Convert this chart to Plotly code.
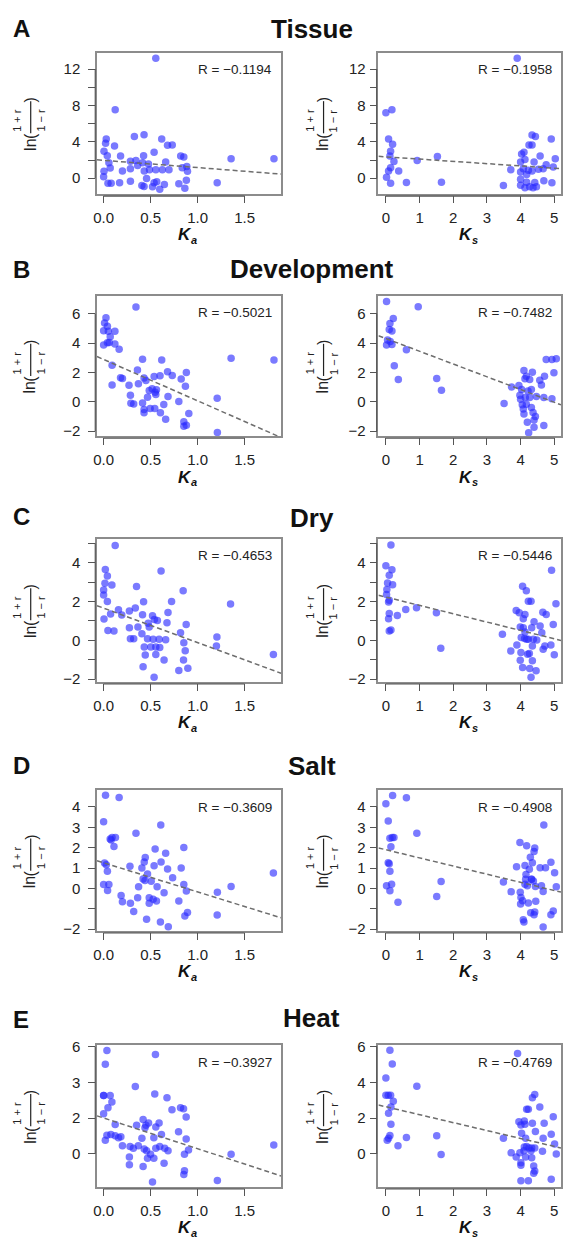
import plotly.graph_objects as go

W, H = 563, 1247

# ---------------- data ----------------
titles = ["Tissue", "Development", "Dry", "Salt", "Heat"]
panel_letters = ["A", "B", "C", "D", "E"]
x_subscripts = ["a", "s"]

r_labels_ka = ["R = −0.1194", "R = −0.5021", "R = −0.4653", "R = −0.3609", "R = −0.3927"]
r_labels_ks = ["R = −0.1958", "R = −0.7482", "R = −0.5446", "R = −0.4908", "R = −0.4769"]

fit_ka_intercept = [1.97, 2.89, 1.66, 1.26, 2.01]
fit_ka_slope = [-0.80, -2.82, -1.78, -1.43, -1.72]
fit_ks_intercept = [2.35, 4.32, 2.23, 1.90, 2.64]
fit_ks_slope = [-0.249, -0.87, -0.43, -0.40, -0.444]

ka_tickvals = [0, 0.5, 1.0, 1.5]
ka_ticktext = ["0.0", "0.5", "1.0", "1.5"]
ks_tickvals = [0, 1, 2, 3, 4, 5]
ks_ticktext = ["0", "1", "2", "3", "4", "5"]

# labelled y ticks
y_tickvals = [
    [0, 4, 8, 12],
    [-2, 0, 2, 4, 6],
    [-2, 0, 2, 4],
    [-2, 0, 1, 2, 3, 4],
    [0, 2, 4, 6],
]
y_ticktext_ka = [
    ["0", "4", "8", "12"],
    ["−2", "0", "2", "4", "6"],
    ["−2", "0", "2", "4"],
    ["−2", "0", "1", "2", "3", "4"],
    ["0", "2", "3", "6"],
]
y_ticktext_ks = [
    ["0", "4", "8", "12"],
    ["−2", "0", "2", "4", "6"],
    ["−2", "0", "2", "4"],
    ["−2", "0", "1", "2", "3", "4"],
    ["0", "2", "4", "6"],
]
# unlabelled y ticks
y_minor_tickvals = [
    [2, 6, 10],
    [],
    [-1, 1, 3, 5],
    [-1],
    [],
]

# Tissue
tissue_ka = [0.555, 0.123, 0.028, 0.021, 0.116, 0.004, 0.039, 0.056, 0.07, 0.004,
             0.0, 0.046, 0.08, 0.17, 0.18, 0.2, 0.285, 0.285, 0.285, 0.327,
             0.344, 0.362, 0.43, 0.425, 0.414, 0.432, 0.407, 0.43, 0.457, 0.477,
             0.488, 0.52, 0.537, 0.537, 0.555, 0.565, 0.597, 0.618, 0.625, 0.646,
             0.66, 0.68, 0.695, 0.73, 0.8, 0.82, 0.853, 0.836, 0.864, 0.88,
             0.885, 0.892, 1.208, 1.356, 1.812]
tissue_ka_y = [13.2, 7.54, 4.31, 3.84, 3.55, 2.97, 2.47, 1.7, 1.12, 0.76,
               0.15, -0.54, -0.54, -0.5, 2.43, 0.8, -0.33, 1.88, 1.05, 4.6,
               1.96, 1.41, 4.79, 2.47, 1.7, 0.8, -0.8, -0.9, -0.04, 1.56,
               0.94, -0.94, 2.86, -0.5, 0.94, -0.4, -1.2, 4.31, 0.94, -0.69,
               1.78, 3.63, 0.94, 3.66, -0.62, 2.43, 2.32, 1.16, -1.09, -0.22,
               1.3, 0.76, -0.5, 2.14, 2.14]
tissue_ks = [3.9, 0.0, 0.18, 0.08, 0.2, 0.14, 0.12, 0.24, 0.14, 0.08,
             0.02, 0.14, 0.38, 0.61, 0.93, 1.53, 1.65, 3.49, 3.71, 4.0,
             4.03, 4.1, 4.13, 4.08, 4.0, 4.0, 4.0, 4.13, 4.18, 4.23,
             4.25, 4.34, 4.44, 4.34, 4.4, 4.34, 4.42, 4.37, 4.47, 4.58,
             4.67, 4.69, 4.76, 4.91, 4.93, 4.97, 5.03, 4.27, 4.18, 4.53]
tissue_ks_y = [13.2, 7.2, 7.54, 4.31, 3.73, 2.97, 2.43, 1.85, 1.16, 0.8,
               0.11, -0.54, 0.8, -0.47, 1.96, 2.39, -0.43, -0.8, 0.94, 1.78,
               2.65, 2.86, 2.07, 1.05, 0.69, -0.1, -0.76, -1.05, -0.43, 0.87,
               3.66, 4.75, 4.6, 3.66, 1.78, 0.8, -0.47, -1.05, -0.94, 2.43,
               1.05, -0.29, 1.49, 4.31, -0.5, 1.23, 2.14, -0.94, 0.4, 0.98]

# Development
dev_ka = [0.0, 0.0, 0.01, 0.025, 0.04, 0.05, 0.04, 0.06, 0.07, 0.12,
          0.12, 0.165, 0.09, 0.09, 0.18, 0.2, 0.27, 0.285, 0.29, 0.32,
          0.344, 0.36, 0.414, 0.37, 0.43, 0.45, 0.414, 0.43, 0.43, 0.467,
          0.485, 0.495, 0.516, 0.537, 0.544, 0.548, 0.555, 0.562, 0.6, 0.604,
          0.618, 0.64, 0.66, 0.685, 0.68, 0.73, 0.8, 0.825, 0.87, 0.88,
          0.853, 0.853, 0.88, 0.906, 1.208, 1.21, 1.356, 1.812]
dev_ka_y = [3.87, 4.84, 5.38, 5.74, 5.16, 4.82, 4.03, 4.05, 4.44, 4.82,
            3.94, 3.58, 2.5, 1.15, 1.64, 1.6, 1.13, 0.45, -0.09, -0.14,
            6.46, 2.18, 2.9, 1.24, 1.62, 1.46, -0.07, -0.52, -0.74, 0.32,
            0.77, -0.45, 0.9, 1.73, -0.45, 0.65, 0.5, 0.83, 1.78, -0.74,
            2.86, -0.18, -1.19, 0.36, 2.05, 1.8, 0.02, 1.55, 1.06, 2.0,
            -1.35, -1.67, -1.6, -0.79, 0.25, -2.09, 2.97, 2.86]
dev_ks = [0.02, 0.96, 0.22, 0.12, 0.1, 0.18, 0.05, 0.13, 0.02, 0.18,
          0.61, 0.25, 0.37, 1.51, 1.65, 3.51, 3.73, 3.95, 4.1, 4.17,
          4.13, 4.27, 4.35, 3.98, 4.03, 4.0, 4.05, 4.08, 4.1, 4.14,
          4.22, 4.27, 4.2, 4.24, 4.32, 4.37, 4.4, 4.44, 4.4, 4.47,
          4.57, 4.62, 4.71, 4.69, 4.69, 4.76, 4.93, 5.06, 4.93, 4.99,
          4.32, 4.17]
dev_ks_y = [6.85, 6.49, 5.69, 5.35, 4.94, 4.83, 4.22, 4.11, 3.87, 3.91,
            3.55, 2.47, 1.53, 1.6, 0.79, -0.11, 1.01, 1.12, 2.13, 1.75,
            1.57, 1.53, 2.02, 0.45, 0.85, 0.18, -0.2, -0.49, -0.83, 0.29,
            0.74, 0.29, -1.39, -2.11, -0.38, -0.72, -1.24, -0.99, -1.73, 0.36,
            1.48, 1.15, 1.75, 0.29, -1.62, 2.88, 2.88, 2.94, 0.22, 1.98,
            0.85, -0.16]

# Dry
dry_ka = [0.123, 0.018, 0.04, 0.014, 0.0, 0.0, 0.088, 0.04, 0.004, 0.046,
          0.11, 0.074, 0.158, 0.193, 0.274, 0.274, 0.285, 0.32, 0.337, 0.35,
          0.365, 0.407, 0.414, 0.425, 0.432, 0.443, 0.42, 0.467, 0.474, 0.485,
          0.502, 0.52, 0.527, 0.54, 0.555, 0.555, 0.537, 0.572, 0.59, 0.611,
          0.597, 0.643, 0.66, 0.674, 0.685, 0.723, 0.8, 0.818, 0.846, 0.853,
          0.85, 0.868, 0.878, 0.896, 1.205, 1.2, 1.35, 1.806]
dry_ka_y = [4.89, 3.65, 3.31, 2.94, 2.6, 2.34, 2.85, 2.0, 1.1, 0.51,
            0.48, 1.36, 1.58, 1.31, 1.51, 0.65, 0.08, 0.08, 1.66, 2.77,
            0.68, 0.34, 1.32, 1.99, -0.34, -0.76, -1.36, 0.08, 0.88, 0.68,
            -0.34, 1.27, 0.05, 1.07, -0.34, -0.73, -1.9, 1.02, 0.05, 3.57,
            -0.37, -1.02, 0.03, 0.9, 1.43, 2.0, -1.56, 0.39, 2.55, -0.12,
            -1.02, -0.54, 0.81, -1.44, 0.17, -0.29, 1.87, -0.73]
dry_ks = [0.15, 0.0, 0.18, 0.1, 0.05, 0.2, 0.03, 0.02, 0.1, 0.08,
          0.1, 0.08, 0.15, 0.1, 0.34, 0.59, 0.91, 1.5, 1.63, 3.46,
          3.71, 3.87, 3.96, 3.89, 3.99, 4.02, 4.01, 3.99, 4.06, 4.06,
          4.17, 4.23, 4.31, 4.08, 4.13, 4.08, 4.13, 4.12, 4.18, 4.21,
          4.26, 4.27, 4.31, 4.33, 4.35, 4.38, 4.4, 4.35, 4.46, 4.58,
          4.63, 4.66, 4.76, 4.67, 4.72, 4.9, 4.92, 4.97, 5.0, 5.05,
          4.48, 4.23]
dry_ks_y = [4.92, 3.85, 3.64, 3.35, 2.96, 2.87, 2.62, 2.36, 2.07, 1.98,
            1.38, 1.11, 0.53, 0.48, 1.28, 1.59, 1.68, 1.42, -0.41, 0.31,
            -0.55, 1.54, 1.42, -0.24, 0.68, 0.14, -0.63, -1.03, -1.4, 2.79,
            2.56, 2.02, 2.02, 1.11, 1.33, 0.65, 0.43, 0.09, 0.05, -0.72,
            -0.68, -1.45, -1.91, 0.65, -0.29, 0.05, 0.96, -1.06, -1.57, 0.74,
            0.39, 1.45, 1.33, -0.46, -0.29, -0.24, 3.61, 0.82, -0.75, 1.88,
            0.02, 0.05]

# Salt
salt_ka = [0.02, 0.165, 0.0, 0.344, 0.608, 0.07, 0.09, 0.126, 0.08, 0.11,
           0.01, 0.028, 0.04, 0.0, 0.056, 0.042, 0.186, 0.2, 0.28, 0.285,
           0.32, 0.362, 0.372, 0.407, 0.432, 0.443, 0.42, 0.44, 0.457, 0.467,
           0.485, 0.485, 0.506, 0.527, 0.537, 0.548, 0.562, 0.569, 0.611, 0.604,
           0.643, 0.66, 0.68, 0.688, 0.734, 0.8, 0.825, 0.853, 0.853, 0.864,
           0.88, 0.892, 1.21, 1.208, 1.356, 1.806]
salt_ka_y = [4.57, 4.46, 3.27, 2.71, 3.11, 2.43, 2.5, 2.5, 2.38, 2.06,
             1.25, 1.17, 0.84, 0.19, 0.19, -0.1, -0.34, -0.65, 1.09, -0.73,
             -1.13, -0.45, 0.08, 1.0, 1.3, 1.52, 0.47, 0.39, -1.51, 0.71,
             -0.45, -0.73, 0.36, -0.53, 1.12, 1.94, -0.62, 0.08, 1.3, -1.64,
             -0.21, 1.73, 0.96, -1.88, 0.52, -0.62, 1.0, 2.01, 0.19, -1.35,
             -0.13, -1.18, -0.18, -1.3, 0.1, 0.76]
salt_ks = [0.0, 0.2, 0.61, 0.07, 0.12, 0.19, 0.24, 0.15, 0.07, 0.1,
           0.12, 0.02, 0.17, 0.12, 0.36, 0.92, 1.51, 1.64, 3.49, 3.72,
           3.88, 3.98, 3.99, 4.01, 4.0, 4.06, 4.08, 4.1, 4.13, 4.18,
           4.16, 4.15, 4.2, 4.23, 4.26, 4.29, 4.32, 4.35, 4.33, 4.38,
           4.4, 4.42, 4.3, 4.42, 4.4, 4.45, 4.44, 4.58, 4.62, 4.69,
           4.67, 4.67, 4.74, 4.9, 4.9, 4.97, 5.01, 5.06, 4.13]
salt_ks_y = [4.16, 4.56, 4.45, 3.31, 2.47, 2.5, 2.5, 2.05, 1.26, 1.21,
             0.85, 0.13, 0.21, -0.11, -0.68, 2.71, -0.39, 0.34, 0.32, -0.16,
             1.06, 2.26, -0.19, -0.44, -0.76, -0.6, -1.53, -1.65, 1.13, 2.1,
             0.69, 0.45, 0.13, -0.71, 0.94, 1.53, 0.45, 1.26, 0.45, 0.37,
             1.82, 1.98, -1.19, -1.16, -1.29, -0.63, 0.1, 1.02, 0.13, 3.11,
             -0.15, -1.89, 1.02, 1.29, -1.29, -1.11, 0.77, 0.08, 0.21]

# Heat
heat_ka = [0.035, 0.018, 0.551, 0.337, 0.0, 0.0, 0.07, 0.088, 0.046, 0.0,
           0.544, 0.674, 0.727, 0.818, 0.85, 0.878, 0.123, 0.351, 0.42, 0.45,
           0.478, 0.44, 0.555, 0.59, 0.035, 0.077, 0.018, 0.123, 0.158, 0.183,
           0.2, 0.281, 0.316, 0.369, 0.407, 0.432, 0.457, 0.467, 0.499, 0.534,
           0.534, 0.555, 0.597, 0.615, 0.65, 0.685, 0.643, 0.274, 0.274, 0.42,
           0.52, 0.797, 0.878, 0.86, 0.903, 0.86, 0.853, 1.21, 1.356, 1.81]
heat_ka_y = [5.79, 5.02, 5.57, 3.78, 3.27, 3.27, 3.27, 2.9, 2.58, 2.25,
             3.36, 3.14, 2.47, 2.58, 2.53, 2.07, 1.64, 1.61, 1.92, 1.61,
             1.73, 1.46, 1.51, 1.73, 1.05, 1.09, 0.77, 1.01, 0.9, 0.96,
             0.46, 0.41, 0.31, 0.46, 0.87, 0.28, 0.18, -0.24, -0.02, -0.24,
             0.9, 0.31, 0.41, 1.09, 0.31, 0.18, -0.52, -0.18, -0.61, -0.7,
             -1.57, 1.24, 0.83, -0.02, 0.22, -0.94, -1.16, -1.49, -0.02, 0.5]
heat_ks = [0.12, 0.19, 0.0, 3.91, 0.92, 0.0, 0.07, 0.14, 0.22, 0.15,
           0.08, 0.15, 0.12, 0.08, 0.04, 0.61, 0.36, 1.51, 1.64, 3.49,
           3.72, 3.87, 3.98, 3.95, 4.01, 4.03, 4.01, 4.01, 4.13, 4.11,
           4.15, 4.11, 4.1, 4.15, 4.18, 4.23, 4.18, 4.25, 4.31, 4.33,
           4.35, 4.33, 4.39, 4.42, 4.39, 4.35, 4.42, 4.44, 4.42, 4.01,
           4.23, 4.57, 4.67, 4.7, 4.65, 4.91, 4.97, 5.01, 5.06, 4.91]
heat_ks_y = [5.8, 5.03, 4.25, 5.62, 3.79, 3.28, 3.28, 3.28, 2.95, 2.63,
             2.27, 1.66, 1.03, 0.88, 0.76, 0.92, 0.46, 1.01, -0.04, 0.88,
             0.06, -0.17, 0.06, 1.8, 1.62, 1.16, -0.5, -0.63, 1.66, 1.84,
             0.88, 0.39, 0.18, -0.17, 2.5, 2.5, 0.42, 0.33, 0.18, 0.33,
             1.71, -0.22, -0.68, -0.96, -1.09, 3.15, 3.33, 1.25, 0.33, -1.51,
             -1.51, 2.63, 0.88, 1.71, 0.15, 1.1, 2.08, 0.55, 0.0, -1.42]

ka_x = [tissue_ka, dev_ka, dry_ka, salt_ka, heat_ka]
ka_y = [tissue_ka_y, dev_ka_y, dry_ka_y, salt_ka_y, heat_ka_y]
ks_x = [tissue_ks, dev_ks, dry_ks, salt_ks, heat_ks]
ks_y = [tissue_ks_y, dev_ks_y, dry_ks_y, salt_ks_y, heat_ks_y]

# ---------------- layout (pixels) ----------------
row_top = [46, 291.7, 537.3, 791.7, 1049.3]
row_bot = [189.3, 434, 682.3, 934, 1192.7]
y_ranges = [[-1.77, 13.82], [-2.36, 7.24], [-2.16, 5.24], [-2.1, 4.81], [-1.87, 6.08]]
col_left = [94, 378.5]
col_right = [280, 563]
x_ranges = [[-0.0705, 1.887], [-0.22, 5.2]]
label_base = [27, 323]
y_standoff = [5, 1]
letter_y = [21.5, 265, 515, 766, 1023.5]
title_y = [22, 265, 516, 767, 1022]

FONT = "Liberation Sans, Arial, sans-serif"
DOT = "rgba(40,40,255,0.62)"


def px(x):
    return x / W


def py(y):
    return 1 - y / H


fig = go.Figure()
layout = dict(
    width=W, height=H, autosize=False,
    margin=dict(l=0, r=0, t=0, b=0),
    paper_bgcolor="white", plot_bgcolor="white",
    showlegend=False, font=dict(family=FONT, color="#222"),
)
annotations = []
shapes = []

for i in range(5):
    for j in range(2):
        k = 2 * i + j + 1
        xs = ka_x[i] if j == 0 else ks_x[i]
        ys = ka_y[i] if j == 0 else ks_y[i]
        b0 = fit_ka_intercept[i] if j == 0 else fit_ks_intercept[i]
        b1 = fit_ka_slope[i] if j == 0 else fit_ks_slope[i]
        xr = x_ranges[j]
        yr = y_ranges[i]
        xa = "x" if k == 1 else f"x{k}"
        ya = "y" if k == 1 else f"y{k}"

        fig.add_trace(go.Scatter(
            x=xs, y=ys, mode="markers", xaxis=xa, yaxis=ya,
            marker=dict(size=7.5, color=DOT, line=dict(width=0)),
            hoverinfo="skip"))
        lx = [xr[0], xr[1]]
        fig.add_trace(go.Scatter(
            x=lx, y=[b0 + b1 * v for v in lx], mode="lines", xaxis=xa, yaxis=ya,
            line=dict(color="#6e6e6e", width=1.5, dash="5px,3px"),
            hoverinfo="skip"))

        xd = [px(col_left[j]), px(col_right[j])]
        yd = [py(row_bot[i]), py(row_top[i])]
        common = dict(showgrid=False, zeroline=False, showline=True, mirror=True,
                      linecolor="#8c8c8c", linewidth=1.5, ticks="outside",
                      ticklen=7, tickwidth=1.2, tickcolor="#555",
                      tickfont=dict(family=FONT, size=15, color="#222"),
                      fixedrange=True)
        tv = ka_tickvals if j == 0 else ks_tickvals
        tt = ka_ticktext if j == 0 else ks_ticktext
        layout["xaxis" if k == 1 else f"xaxis{k}"] = dict(
            domain=xd, range=xr, anchor=ya, tickmode="array",
            tickvals=tv, ticktext=tt, ticklabelstandoff=2, **common)
        ytt = y_ticktext_ka[i] if j == 0 else y_ticktext_ks[i]
        ydict = dict(domain=yd, range=yr, anchor=xa, tickmode="array",
                     tickvals=y_tickvals[i], ticktext=ytt,
                     ticklabelstandoff=y_standoff[j], **common)
        if y_minor_tickvals[i]:
            ydict["minor"] = dict(tickmode="array", tickvals=y_minor_tickvals[i],
                                  ticks="outside", ticklen=7, tickwidth=1.2,
                                  tickcolor="#555", showgrid=False)
        layout["yaxis" if k == 1 else f"yaxis{k}"] = ydict

        # detached R-style axis lines spanning the tick range
        def xpaper(v):
            return xd[0] + (v - xr[0]) / (xr[1] - xr[0]) * (xd[1] - xd[0])

        def ypaper(v):
            return yd[0] + (v - yr[0]) / (yr[1] - yr[0]) * (yd[1] - yd[0])

        all_y = y_tickvals[i] + y_minor_tickvals[i]
        shapes.append(dict(type="line", xref="paper", yref="paper",
                           x0=xpaper(min(tv)), x1=xpaper(max(tv)),
                           y0=py(row_bot[i] + 1.8), y1=py(row_bot[i] + 1.8),
                           line=dict(color="#555", width=1.1)))
        shapes.append(dict(type="line", xref="paper", yref="paper",
                           x0=px(col_left[j] - 1.8), x1=px(col_left[j] - 1.8),
                           y0=ypaper(min(all_y)), y1=ypaper(max(all_y)),
                           line=dict(color="#555", width=1.1)))

        # R label
        annotations.append(dict(
            text=r_labels_ka[i] if j == 0 else r_labels_ks[i],
            xref=f"{xa} domain", yref=f"{ya} domain", x=1, y=1,
            xanchor="right", yanchor="middle", xshift=-7, yshift=-17,
            showarrow=False, font=dict(family=FONT, size=13.5, color="#222")))

        # x-axis title K_a / K_s (K plus a separate small subscript)
        cx = (col_left[j] + col_right[j]) / 2
        annotations.append(dict(
            text="<b><i>K</i></b>", xref="paper", yref="paper",
            x=px(cx - 4), y=py(row_bot[i] + 41),
            xanchor="center", yanchor="middle", showarrow=False,
            font=dict(family=FONT, size=17, color="#111")))
        annotations.append(dict(
            text=f"<b><i>{x_subscripts[j]}</i></b>", xref="paper", yref="paper",
            x=px(cx + 5), y=py(row_bot[i] + 46),
            xanchor="center", yanchor="middle", showarrow=False,
            font=dict(family=FONT, size=11, color="#111")))

        # y-axis title ln((1+r)/(1-r))
        cy = (row_top[i] + row_bot[i]) / 2
        bx = label_base[j]
        ylab_parts = [
            ("ln", bx - 1, cy + 22, 16),
            ("(", bx, cy + 13, 16),
            (")", bx, cy - 24, 16),
            ("1 + r", bx - 13.5, cy - 3, 11),
            ("1 − r", bx + 10.5, cy - 3, 11),
        ]
        for txt, ax_, ay_, fs in ylab_parts:
            annotations.append(dict(
                text=txt, xref="paper", yref="paper", x=px(ax_), y=py(ay_),
                xanchor="center", yanchor="middle", textangle=-90,
                showarrow=False, font=dict(family=FONT, size=fs, color="#222")))
        shapes.append(dict(type="line", xref="paper", yref="paper",
                           x0=px(bx), x1=px(bx), y0=py(cy - 22.5), y1=py(cy + 10),
                           line=dict(color="#222", width=1.2)))

    # panel letter and title
    annotations.append(dict(
        text=f"<b>{panel_letters[i]}</b>", xref="paper", yref="paper",
        x=px(7), y=py(letter_y[i]), xanchor="left", yanchor="middle",
        showarrow=False, font=dict(family=FONT, size=24, color="#111")))
    annotations.append(dict(
        text=f"<b>{titles[i]}</b>", xref="paper", yref="paper",
        x=px(311), y=py(title_y[i]), xanchor="center", yanchor="middle",
        showarrow=False, font=dict(family=FONT, size=26, color="#111")))

layout["annotations"] = annotations
layout["shapes"] = shapes
fig.update_layout(**layout)

fig.write_html("out.html", config={"displayModeBar": False},
               post_script="document.body.style.margin='0';document.body.style.padding='0';")
